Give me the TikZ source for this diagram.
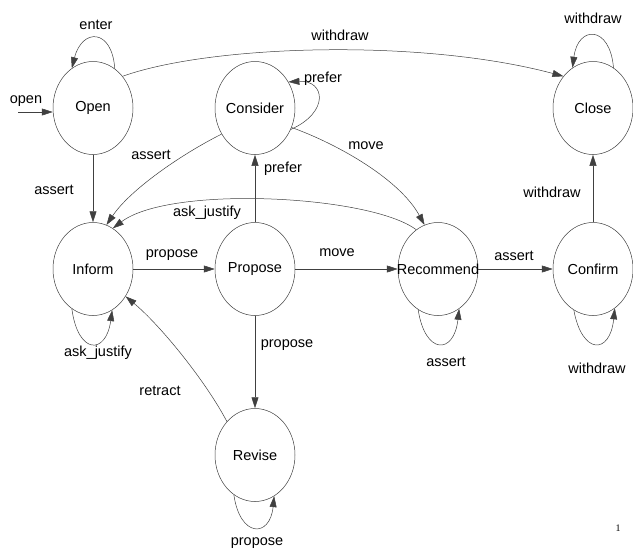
\documentclass[tikz,border=0pt]{standalone}
\usepackage{fontspec}
\setmainfont{Liberation Sans}
\newfontfamily\pagefont{Liberation Serif}
\usetikzlibrary{arrows.meta,shapes.geometric}
\begin{document}
\begin{tikzpicture}[x=1pt,y=-1pt,
  state/.style={draw=black!75, line width=0.5pt, shape=ellipse, minimum width=80pt, minimum height=93pt, inner sep=0pt, font=\fontsize{14.5}{17}\selectfont},
  lbl/.style={inner sep=0pt, font=\fontsize{14.5}{17}\selectfont},
  edge/.style={draw=black!75, line width=0.5pt, -{Triangle[length=11pt,width=7pt]}},
]
\useasboundingbox (0,0) rectangle (633,549);

% states
\node[state] (Open)      at (93,108)  {\makebox[0pt]{Open}};
\node[state] (Consider)  at (255,108) {\makebox[0pt]{Consider}};
\node[state] (Close)     at (593,108) {\makebox[0pt]{Close}};
\node[state] (Inform)    at (93,269)  {\makebox[0pt]{Inform}};
\node[state] (Propose)   at (255,269) {\makebox[0pt]{Propose}};
\node[state] (Recommend) at (438,269) {\makebox[0pt]{Recommend}};
\node[state] (Confirm)   at (593,269) {\makebox[0pt]{Confirm}};
\node[state] (Revise)    at (255,455) {\makebox[0pt]{Revise}};

% initial arrow
\coordinate (oin) at (18,112);
\draw[edge] (oin) -- (oin -| Open.west);
\node[lbl] (lopen) at (26,101) {open};

% self loops
\draw[edge] (Open.61) .. controls (112,28) and (82,28) .. (Open.118);
\node[lbl] (lenter) at (96,25) {enter};

\draw[edge] (Close.63) .. controls (610,25) and (578,25) .. (Close.117);
\node[lbl] (lcw) at (593,18) {withdraw};

\draw[edge] (Consider.-31) .. controls (330,112) and (325,80) .. (Consider.38);
\node[lbl] (lcp) at (323,79) {prefer};

\draw[edge] (Inform.242) .. controls (78,355) and (106,355) .. (Inform.295);
\node[lbl] (lia) at (98,353) {ask\_justify};

\draw[edge] (Recommend.244) .. controls (425,355) and (454,355) .. (Recommend.298);
\node[lbl] (lra) at (446,362) {assert};

\draw[edge] (Confirm.245) .. controls (582,355) and (610,355) .. (Confirm.299);
\node[lbl] (lcfw) at (597,368) {withdraw};

\draw[edge] (Revise.242) .. controls (240,538) and (270,538) .. (Revise.295);
\node[lbl] (lrp) at (257,543) {propose};

% transitions
\draw[edge] (Open.47.7) .. controls (210,45) and (420,38) .. (Close.133);
\node[lbl] (low) at (340,35) {withdraw};

\draw[edge] (Open.south) -- (Inform.north);
\node[lbl] (loa) at (54,190) {assert};

\draw[edge] (Consider.218) .. controls (180,155) and (130,190) .. (Inform.73);
\node[lbl] (lca) at (151,155) {assert};

\draw[edge] (Consider.-28) .. controls (340,145) and (400,180) .. (Recommend.107);
\node[lbl] (lcm) at (366,146) {move};

\draw[edge] (Propose.north) -- (Consider.south);
\node[lbl] (lpp) at (283,169) {prefer};

\draw[edge] (Recommend.119) .. controls (370,195) and (170,185) .. (Inform.64);
\node[lbl] (lrj) at (207,213) {ask\_justify};

\draw[edge] (Inform.east) -- (Propose.west);
\node[lbl] (lip) at (172,255) {propose};

\draw[edge] (Propose.east) -- (Recommend.west);
\node[lbl] (lpm) at (337,253) {move};

\draw[edge] (Recommend.east) -- (Confirm.west);
\node[lbl] (lrc) at (514,256) {assert};

\draw[edge] (Confirm.north) -- (Close.south);
\node[lbl] (lcc) at (552,192) {withdraw};

\draw[edge] (Propose.south) -- (Revise.north);
\node[lbl] (lpr) at (287,345) {propose};

\draw[edge] (Revise.130) .. controls (205,380) and (160,325) .. (Inform.320);
\node[lbl] (lret) at (160,391) {retract};

\node[inner sep=0pt, font=\pagefont\fontsize{10}{12}\selectfont] (pg) at (618,528) {1};
\end{tikzpicture}
\end{document}
